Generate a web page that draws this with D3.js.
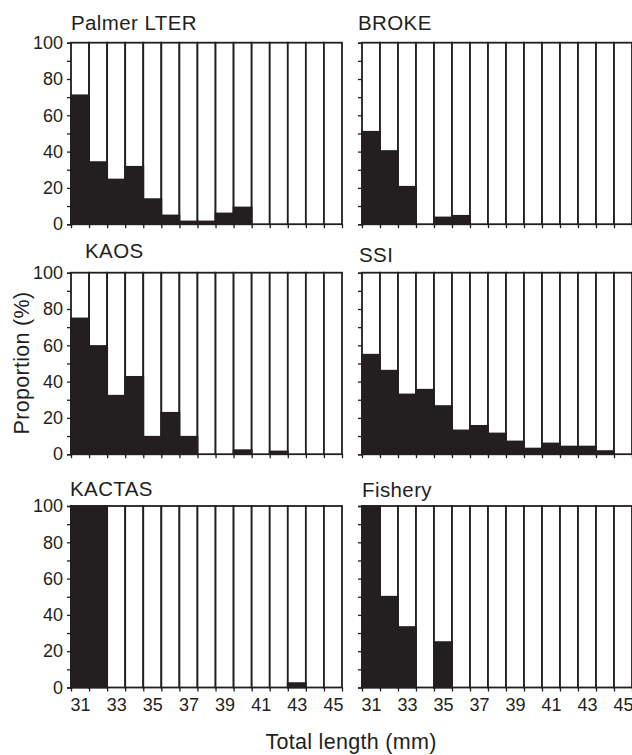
<!DOCTYPE html>
<html>
<head>
<meta charset="utf-8">
<script src="https://cdn.jsdelivr.net/npm/d3@7"></script>
<style>
  html, body { margin: 0; padding: 0; background: #fff; }
  svg text { font-family: "Liberation Sans", Arial, Helvetica, sans-serif; fill: #231f20; }
</style>
</head>
<body>
<svg id="chart" width="632" height="755"></svg>
<script>
// Total length classes (mm)
const lengths = [31, 32, 33, 34, 35, 36, 37, 38, 39, 40, 41, 42, 43, 44, 45];
const xTickLabels = [31, 33, 35, 37, 39, 41, 43, 45];
const yTicks = [0, 20, 40, 60, 80, 100];

// Proportion (%) in each length class, one array per survey
const palmerLTER = [71, 34.2, 24.6, 31.6, 13.8, 4.8, 1.5, 1.5, 5.9, 9.2, 0, 0, 0, 0, 0];
const broke      = [50.9, 40.3, 20.6, 0, 3.7, 4.6, 0, 0, 0, 0, 0, 0, 0, 0, 0];
const kaos       = [74.8, 59.6, 32.2, 42.6, 9.6, 22.8, 9.6, 0, 0, 2.2, 0, 1.5, 0, 0, 0];
const ssi        = [54.8, 46, 32.9, 35.5, 26.5, 13.1, 15.6, 11.4, 7, 3.1, 5.9, 4.2, 4.2, 1.7, 0];
const kactas     = [100, 100, 0, 0, 0, 0, 0, 0, 0, 0, 0, 0, 2.4, 0, 0];
const fishery    = [100, 50, 33.3, 0, 25, 0, 0, 0, 0, 0, 0, 0, 0, 0, 0];

const panelNames = ["Palmer LTER", "BROKE", "KAOS", "SSI", "KACTAS", "Fishery"];
const panelValues = [palmerLTER, broke, kaos, ssi, kactas, fishery];

// Layout
const ink = "#231f20";
const colX = [71, 362];
const panelW = [271, 270];
const rowY = [42.7, 272.7, 506];
const panelH = 181.5;
const titleOffset = [ // [dx, baseline dy] relative to panel top-left
  [0, -13], [-4, -13], [14, -15], [-3, -11], [-1, -10], [0, -9]
];

const svg = d3.select("#chart");

panelNames.forEach((name, i) => {
  const col = i % 2, row = Math.floor(i / 2);
  const x0 = colX[col], y0 = rowY[row], w = panelW[col];
  const g = svg.append("g").attr("transform", `translate(${x0},${y0})`);

  const x = d3.scaleBand().domain(lengths).range([0, w]).padding(0);
  const xEdge = d3.scaleLinear().domain([30.5, 45.5]).range([0, w]);
  const y = d3.scaleLinear().domain([0, 100]).range([panelH, 0]);
  const vals = panelValues[i];

  // y axis: ticks every 10, labels on multiples of 20 in the left column
  const yAxis = d3.axisLeft(y)
    .tickValues(d3.range(0, 101, 10))
    .tickSize(4)
    .tickPadding(4)
    .tickFormat(d => (col === 0 && yTicks.includes(d)) ? d : "");
  const ya = g.append("g").call(yAxis);
  ya.select(".domain").attr("stroke", ink).attr("stroke-width", 1.5);
  ya.selectAll(".tick line").attr("stroke", ink).attr("stroke-width", 1.3);
  ya.selectAll(".tick text").attr("font-size", 18).attr("fill", ink)
    .style("font-family", '"Liberation Sans", Arial, sans-serif');

  // x axis: ticks at class boundaries
  const xa = g.append("g").attr("transform", `translate(0,${panelH})`)
    .call(d3.axisBottom(xEdge).tickValues(d3.range(30.5, 45.6, 1)).tickSize(4).tickFormat(""));
  xa.select(".domain").remove();
  xa.selectAll(".tick line").attr("stroke", ink).attr("stroke-width", 1.3);

  // x labels on the bottom row, centred on odd length classes
  if (row === 2) {
    const xl = g.append("g").attr("transform", `translate(0,${panelH})`)
      .call(d3.axisBottom(xEdge).tickValues(xTickLabels).tickSize(0).tickPadding(11).tickFormat(d3.format("d")));
    xl.select(".domain").remove();
    xl.selectAll(".tick text").attr("font-size", 18).attr("fill", ink)
      .style("font-family", '"Liberation Sans", Arial, sans-serif');
  }

  // full-height outlined bars
  g.selectAll("rect.bg").data(lengths).join("rect")
    .attr("class", "bg")
    .attr("x", d => x(d)).attr("width", x.bandwidth())
    .attr("y", y(100)).attr("height", y(0) - y(100))
    .attr("fill", "#fff").attr("stroke", ink).attr("stroke-width", 1.8);

  // filled proportion
  g.selectAll("rect.fg").data(lengths.map((d, k) => ({ len: d, v: vals[k] })).filter(d => d.v > 0)).join("rect")
    .attr("class", "fg")
    .attr("x", d => x(d.len)).attr("width", x.bandwidth())
    .attr("y", d => y(d.v)).attr("height", d => y(0) - y(d.v))
    .attr("fill", ink).attr("stroke", ink).attr("stroke-width", 1.8);

  // panel title
  g.append("text")
    .attr("x", titleOffset[i][0]).attr("y", titleOffset[i][1])
    .attr("font-size", 20.5).attr("letter-spacing", 0.4)
    .text(name);
});

// axis titles
svg.append("text")
  .attr("transform", `translate(29,363) rotate(-90)`)
  .attr("text-anchor", "middle")
  .attr("font-size", 21.5).attr("letter-spacing", 0.3)
  .text("Proportion (%)");

svg.append("text")
  .attr("x", 351).attr("y", 749)
  .attr("text-anchor", "middle")
  .attr("font-size", 21.5).attr("letter-spacing", 0.3)
  .text("Total length (mm)");
</script>
</body>
</html>
